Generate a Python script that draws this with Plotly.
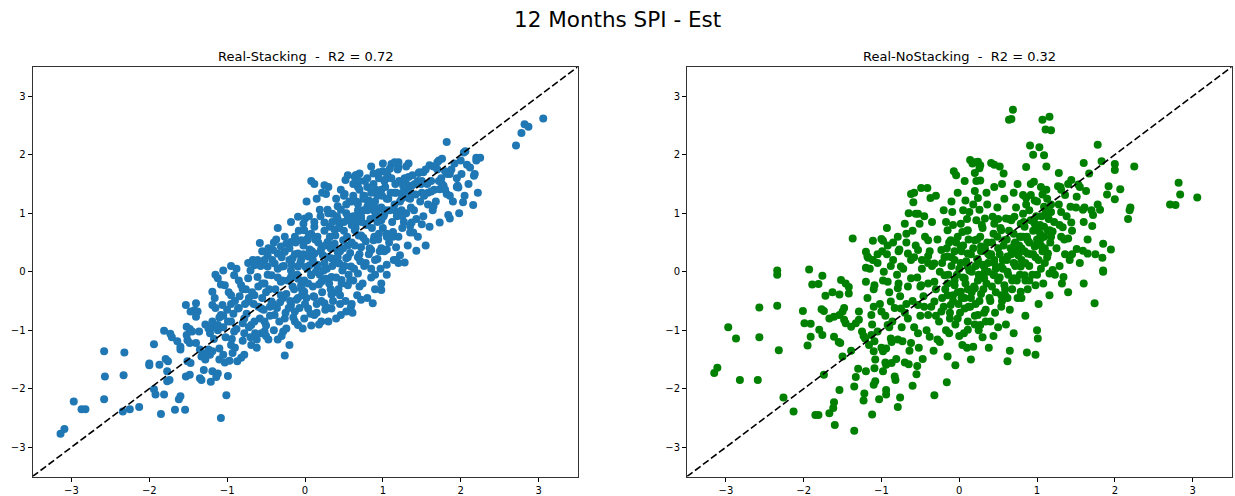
import plotly.graph_objects as go

# ---- Real vs Stacking estimate (12-month SPI): outer / sparse points ----
stack_x = [
    -3.14, -3.09, -2.97, -2.87, -2.82, -2.58, -2.57, -2.58, -2.32, -2.33, -2.34, -2.25, -2.13,
    -1.85, -1.67, -1.54, -1.62, -1.60, -1.94, -1.92, -1.81, -1.77, -1.74,
    -2.00, -2.00, -1.87, -1.79, -1.76, -1.77, -1.94, -1.81, -1.73, -1.71, -1.64, -1.60, -1.60,
    -1.53, -1.40, -1.47, -1.42, -1.38, -1.40, -1.52, -1.48, -1.45, -1.36, -1.52, -1.51, -1.48, -1.40,
    -1.51, -1.47, -1.53, -1.48, -1.35, -1.33, -1.30, -1.28, -1.24, -1.22,
    -1.35, -1.33, -1.21, -1.30, -1.28, -1.24, -1.22, -1.19,
    -1.19, -1.19, -1.19, -1.19, -1.19,
    -1.08, -1.01, -1.12, -1.14, -0.99, -1.10, -1.03, -0.97, -0.87, -0.82, -0.78,
    -1.10, -0.95, -0.93, -0.26, -0.80, -0.69, -0.62, -0.47, -0.35,
    -0.56, -0.52, -0.50, -0.28, -0.24, -0.03, -0.09, -0.13,
    0.40, 0.46, 0.53, 0.61, 0.59, 0.72, 0.80, 0.87, 0.98, 0.98, 0.68, 0.34, 0.36,
    3.06, 2.82, 2.87, 2.78, 2.71, 1.82, 2.04, 2.06, 2.20, 2.25, 2.08, 1.92, 1.72, 1.76, 1.70,
    1.60, 1.65, 1.33, 1.20, 1.20, 1.83, 1.86, 2.01, 2.18, 2.17, 1.46, 1.52, 1.76, 1.78, 1.96, 1.97,
    1.50, 1.49, 1.41, 1.37, 1.30, 1.32, 1.26, 1.25, 1.34, 1.50, 1.58, 1.62, 1.66, 1.73, 1.82,
    2.03, 2.16, 1.65, 1.33, 1.24, 1.84, 1.86, 1.73, 1.43, 1.37, 1.35, 1.35, 1.39, 1.50, 1.60,
    1.20, 1.43, 1.22, 1.28, 1.20,
    0.08, 0.25, 0.30, 0.22, 0.27, 0.52, 0.66, 0.70, 0.64, 0.68, 1.11, 1.09, 1.15, 0.95, 1.02, 1.05,
    0.42, 0.46, 0.57, 0.53, 0.19, 0.29, -0.09, 0.00, -0.02, -0.58, -0.37, -0.88, -0.73, -0.67,
    0.35, 0.42, 0.50, 0.60, 0.65, 0.25, 0.32, 0.38, 0.44,
    0.68, 0.75, 0.80, 0.82, 0.88, 0.93, 0.98, 1.05, 1.15,
    0.80, 0.88, 0.95, 1.02, 1.17, 0.72, 0.80, 0.90, 0.98,
    0.64, 0.72, 0.88, 0.95, 1.05, 1.13, 0.72, 0.85, 0.98, 1.05, 1.17, 0.68, 0.76, 0.93, 1.05, 1.17,
    -0.01, 0.08, 0.12, 0.16, 0.03, -0.05, -0.13, -0.18, -0.24, -0.31, -0.26, -0.35, -0.41, -0.48,
    -0.52, -0.61, -0.65, -0.48, -0.39, -0.29, -0.16, -0.09, 0.04, 0.12, 0.21, 0.29, 0.38, 0.49,
    0.55, 0.42, 0.34, 0.25, 0.16, 0.06, -0.09, 0.44, 0.53, 0.59,
    0.40, 0.51, 0.60, 0.62, 0.75, 0.85, 0.90, 0.55, 0.65, 0.75,
    -1.12, -1.03, -0.91, -0.82, -0.73, -0.61, -0.52, -0.43, -0.31, -0.18, -0.05, 0.08, 0.21, 0.34,
    0.47, 0.55,
    -1.16, -1.06, -0.95, -0.86, -0.73, -0.65, -0.56, -0.43, -0.31, -0.18, -0.09, 0.04, 0.12, 0.25,
    0.34, -0.01, -1.08,
    -1.12, -0.99, -0.91, -0.78, -0.69, -0.39, -0.26, -0.13, -0.01, 0.12, 0.21, -0.52,
    -1.15, -1.05, -0.95, 0.62, 0.70, 0.85, 0.90,
]
stack_y = [
    -2.77, -2.69, -2.22, -2.35, -2.35, -1.36, -1.79, -2.18, -1.38, -1.77, -2.39, -2.35, -2.31,
    -2.43, -2.36, -2.36, -2.18, -2.13, -2.01, -2.10, -2.10, -1.87, -1.85,
    -1.57, -1.60, -1.59, -1.49, -1.53, -1.70, -1.24, -1.01, -1.06, -1.12, -1.19, -1.28, -1.33,
    -0.57, -0.54, -0.68, -0.66, -0.68, -0.77, -0.94, -0.98, -1.02, -1.02, -1.08, -1.17, -1.22, -1.22,
    -1.53, -1.56, -1.79, -1.76, -1.33, -1.45, -1.40, -1.50, -1.33, -1.42,
    -1.82, -1.85, -1.88, -1.68, -0.90, -0.97, -1.05, -0.95,
    -0.34, -0.57, -0.85, -1.36, -1.70,
    -2.50, -2.11, -1.74, -1.80, -1.78, -1.50, -1.55, -1.52, -1.53, -1.47, -1.42,
    -1.31, -1.25, -1.39, -1.43, -1.18, -1.25, -1.16, -1.16, -1.16,
    -1.05, -1.02, -1.10, -1.02, -0.97, -0.97, -0.91, -0.85,
    -0.80, -0.74, -0.68, -0.70, -0.60, -0.48, -0.45, -0.54, -0.31, -0.20, -0.03, -0.39, -0.36,
    2.62, 2.52, 2.48, 2.37, 2.16, 2.22, 2.04, 2.06, 1.95, 1.95, 1.83, 1.85, 1.90, 1.93, 1.87,
    1.82, 1.80, 1.85, 1.87, 1.78, 1.67, 1.67, 1.67, 1.67, 1.64, 1.69, 1.70, 1.50, 1.47, 1.47, 1.44,
    1.55, 1.50, 1.50, 1.47, 1.50, 1.42, 1.47, 1.35, 1.35, 1.35, 1.35, 1.37, 1.40, 1.41, 1.33,
    1.19, 1.14, 1.12, 1.26, 1.05, 0.97, 0.91, 0.84, 0.90, 0.84, 0.78, 0.67, 0.67, 0.81, 0.77,
    0.60, 0.36, 0.28, 0.16, 0.15,
    1.55, 1.48, 1.45, 1.35, 1.33, 1.57, 1.65, 1.68, 1.62, 1.45, 1.84, 1.76, 1.87, 1.60, 1.55, 1.60,
    1.12, 1.06, 1.20, 1.00, 1.06, 1.06, 0.94, 0.91, 0.82, 0.49, 0.55, 0.05, 0.15, 0.20,
    0.99, 0.90, 0.85, 0.93, 0.82, 0.84, 0.77, 0.72, 0.80,
    1.16, 1.30, 1.45, 1.22, 1.38, 1.30, 1.40, 1.25, 1.35,
    1.11, 1.05, 1.08, 0.99, 1.03, 0.90, 0.82, 0.94, 0.88,
    0.71, 0.62, 0.54, 0.65, 0.60, 0.68, 0.42, 0.37, 0.40, 0.38, 0.42, 0.25, 0.10, 0.22, 0.12, 0.20,
    0.71, 0.65, 0.77, 0.60, 0.54, 0.54, 0.60, 0.51, 0.48, 0.43, 0.34, 0.31, 0.37, 0.28,
    0.20, 0.20, 0.11, 0.09, 0.14, 0.09, 0.23, 0.31, 0.26, 0.31, 0.40, 0.51, 0.48, 0.54,
    0.45, 0.34, 0.23, 0.14, 0.09, 0.11, 0.09, 0.14, 0.23, 0.09,
    1.25, 1.33, 1.20, 1.30, 1.25, 1.35, 1.20, 0.95, 0.95, 1.05,
    -0.11, -0.23, -0.06, -0.23, -0.11, -0.09, -0.20, -0.06, -0.17, -0.09, -0.23, -0.06, -0.17, -0.09,
    -0.14, -0.23,
    -0.45, -0.57, -0.40, -0.63, -0.51, -0.40, -0.63, -0.51, -0.40, -0.57, -0.45, -0.63, -0.43, -0.54,
    -0.63, -0.34, -0.74,
    -0.91, -0.85, -1.02, -0.80, -0.91, -0.74, -0.80, -0.68, -0.80, -0.74, -0.85, -0.85,
    -0.05, 0.02, 0.10, -0.15, -0.25, 0.05, -0.05,
]

# ---- Real vs Stacking: dense central band ----
stack_core_x = [
    -1.15, -1.10, -1.05, -1.02, -0.98, -0.95, -0.92, -0.90, -0.88, -0.85, -0.84, -0.80, -0.78, -0.76,
    -1.08, -1.00, -0.94, -1.12, -1.17, -1.05,
    -0.75, -0.72, -0.70, -0.68, -0.66, -0.64, -0.60, -0.58, -0.57, -0.55, -0.53, -0.50, -0.48, -0.46,
    -0.45, -0.42, -0.41, -0.40, -0.62, -0.70, -0.77, -0.55, -0.47,
    -0.38, -0.36, -0.35, -0.33, -0.30, -0.28, -0.26, -0.25, -0.22, -0.20, -0.19, -0.17, -0.15, -0.14,
    -0.12, -0.10, -0.08, -0.07, -0.05, -0.04, -0.02, -0.01, -0.30, -0.20, -0.35, -0.18, -0.40,
    0.02, 0.03, 0.05, 0.07, 0.09, 0.10, 0.12, 0.14, 0.15, 0.17, 0.19, 0.20, 0.22, 0.23, 0.25, 0.26,
    0.28, 0.30, 0.31, 0.33, 0.35, 0.36, 0.38, 0.39, 0.05, 0.08, 0.18, 0.30, 0.02, 0.15, 0.12,
    0.41, 0.43, 0.45, 0.46, 0.48, 0.50, 0.52, 0.53, 0.55, 0.57, 0.58, 0.60, 0.62, 0.63, 0.65, 0.67,
    0.68, 0.70, 0.72, 0.74, 0.75, 0.77, 0.78, 0.79, 0.45, 0.50, 0.60, 0.70, 0.55, 0.65,
    0.81, 0.83, 0.85, 0.86, 0.88, 0.90, 0.92, 0.94, 0.95, 0.97, 0.99, 1.00, 1.02, 1.04, 1.06, 1.08,
    1.10, 1.12, 1.14, 1.16, 1.18, 1.19, 0.90, 1.05, 1.00, 0.85,
    1.22, 1.25, 1.28, 1.30, 1.32, 1.35, 1.38, 1.40, 1.45, 1.48, 1.52, 1.55, 1.58, 1.62, 1.68, 1.70,
    1.25, 1.45, 1.55, 1.30,
    1.75, 1.80, 1.88, 1.90, 1.95, 2.00, 2.10, 2.12, 2.20, 2.22, 1.98, 2.05,
]
stack_core_y = [
    -0.62, -0.78, -0.95, -1.12, -0.35, -0.55, -0.72, -1.30, -0.98, -0.15, -0.42, -0.88, -1.05, -0.30,
    -0.22, -0.65, -1.15, -1.00, -1.15, -1.42,
    -0.72, -0.95, 0.02, -0.35, -0.55, -1.05, -0.25, -0.80, 0.10, -0.45, -0.65, -0.92, -0.05, -0.30,
    -0.75, 0.20, -0.55, -1.00, -1.30, -1.12, -0.55, 0.35, 0.40,
    -0.30, -0.62, 0.05, -0.85, 0.25, -0.45, 0.60, -0.70, -0.15, 0.40, -0.50, 0.12, -0.78, -0.30,
    0.50, -0.05, 0.70, -0.62, 0.20, -0.40, 0.45, -0.15, -1.10, -1.25, 0.75, 0.85, 0.50,
    -0.45, 0.05, 0.62, -0.72, 0.35, -0.25, 0.85, 0.00, -0.55, 0.50, -0.05, 0.95, -0.35, 0.28, 0.70, -0.65,
    0.05, 1.00, -0.20, 0.40, 0.85, -0.50, 0.15, 0.62, 0.95, -0.92, -0.90, -0.85, 1.20, 1.25, 1.50,
    0.95, -0.30, 0.35, 1.40, 0.02, 0.70, -0.50, 1.15, 0.25, 0.88, -0.15, 0.50, 1.50, 0.05, 0.75, -0.40,
    1.05, 0.30, 0.95, -0.20, 0.58, 1.55, 0.15, 0.80, -0.55, 1.30, -0.55, 1.40, 1.65, 1.65,
    1.20, 0.40, -0.10, 0.75, 1.50, 0.20, 1.00, 0.55, 1.70, 0.05, 1.30, 0.75, 0.35, 1.05, 1.65, 0.50,
    1.35, 0.85, 0.20, 1.50, 0.95, 1.75, -0.30, -0.05, 1.85, 1.80,
    1.20, 0.75, 1.60, 1.00, 0.45, 1.25, 1.65, 1.05, 1.55, 1.20, 0.95, 1.75, 1.15, 1.55, 1.20, 1.75,
    0.95, 0.60, 0.45, 1.80,
    1.60, 1.40, 1.75, 1.20, 1.60, 1.90, 1.50, 1.78, 1.90, 1.35, 1.00, 1.30,
]

# ---- Real vs Stacking: heaviest overlap along the diagonal ----
stack_dense_x = [
    -0.32, -0.29, -0.27, -0.24, -0.21, -0.18, -0.16, -0.13, -0.11, -0.09, -0.06, -0.04, -0.02, 0.00,
    0.01, 0.04, 0.06, 0.08, 0.10, 0.11, 0.13, 0.16, 0.18, 0.20, 0.21, 0.24, 0.26, 0.27, 0.29, 0.32,
    0.33, 0.35, 0.37, 0.40, 0.42, 0.44, 0.47, 0.49, 0.51, 0.54, 0.56, 0.58, 0.60, 0.02, -0.20, -0.35,
    0.15, 0.30, 0.45, -0.45, -0.60, -0.72, -0.85, -0.95, -1.05, -0.65, -0.55, -0.80, -0.90, -0.50,
    0.62, 0.64, 0.66, 0.69, 0.71, 0.73, 0.76, 0.78, 0.80, 0.82, 0.84, 0.87, 0.89, 0.91, 0.93, 0.96,
    0.98, 1.01, 1.03, 1.05, 1.07, 1.09, 1.11, 1.13, 1.15, 1.17, 0.70, 0.88, 1.00, 0.80,
    1.21, 1.24, 1.27, 1.30, 1.33, 1.36, 1.42, 1.47, 1.53, 1.57, 1.64, 1.72, 1.80, 1.86, 1.95,
]
stack_dense_y = [
    -0.52, -0.15, 0.10, -0.38, -0.62, 0.02, -0.25, 0.30, -0.48, -0.12, 0.15, -0.30, 0.30, -0.55,
    0.08, -0.20, 0.38, -0.05, 0.20, -0.42, 0.55, 0.12, -0.22, 0.35, -0.50, 0.02, 0.45, -0.12, 0.25, 0.60,
    -0.30, 0.10, 0.42, -0.10, 0.25, 0.75, -0.20, 0.40, 0.10, 0.60, -0.05, 0.32, 0.80, 0.55, 0.20, -0.10,
    -0.70, -0.62, -0.40, -0.60, -0.60, -0.45, -0.62, -0.85, -0.75, -0.85, -0.20, -0.30, -0.50, -0.35,
    0.95, 0.45, 1.20, 0.62, 0.18, 0.85, 1.30, 0.52, 1.05, 0.30, 0.90, 1.15, 0.60, 1.40, 0.85, 0.35,
    1.10, 0.95, 1.45, 0.65, 1.25, 1.05, 1.60, 0.60, 1.15, 1.35, 1.55, 1.68, 1.72, 1.60,
    1.55, 1.25, 0.85, 1.30, 1.62, 1.10, 1.32, 1.70, 1.30, 1.50, 1.05, 1.55, 1.72, 1.30, 1.45,
]

# ---- Real vs NoStacking estimate: outer / sparse points ----
nostack_x = [
    -1.37, -1.20, -1.18, -1.93, -2.34, -1.20,
    -2.34, -2.57, -2.34, -2.97, -2.87, -2.57, -2.32, -3.11, -3.15, -2.82, -2.59, -2.26, -2.13,
    -1.85, -1.81, -1.67, -1.62, -1.61, -1.60, -1.35, -1.54, -1.35, -1.33, -1.30, -1.22, -1.23,
    -1.20, -1.74, -1.50, -1.39, -1.95, -1.91, -1.61, -1.55, -1.53, -1.80, -1.76, -2.01, -1.99, -1.91,
    -1.77, -1.74, -1.67, -1.61, -1.54, -1.50, -1.48, -1.48, -1.46, -1.39, -1.33, -1.29, -1.29,
    -1.89, -1.81, -1.76, -1.72, -1.63, -1.54, -1.52, -1.46, -1.42, -1.42, -1.20,
    -1.25, -1.23, -1.21,
    0.69, 0.64, 0.67, 1.07, 1.16, 1.11, 0.91, 1.03, 1.09, 0.86, 0.96,
    0.14, 0.17, 0.20, 0.27, 0.26, 0.24, 0.41, 0.45, 0.52, 0.57, -0.07, -0.04, 0.07, 0.20, 0.22, 0.27,
    -0.49, -0.41, -0.62, -0.58, -0.59, -0.37, -0.02, 0.08, 0.20, 0.24, 0.36,
    0.70, 0.82, 0.86, 0.92, 0.97, 1.05, 1.07, 1.13,
    -0.56, -0.53, -0.09, 0.13, 0.26, 0.22, 0.33,
    -0.70, -0.51, -0.60, -0.93, -1.11, -1.00, -0.98, -0.79, -0.68, -0.77, -0.99, -0.93, -0.88,
    -1.11, -1.17, -0.53, -0.40, -0.48,
    -0.17, -0.15, -0.08, 0.02, 0.04, 0.11, -0.23, -0.15, -0.32,
    0.43, 0.45, 0.54, 0.60, 0.67, 0.71, 0.82, 0.79, 0.84, 0.92, 0.97, 1.01, 1.09, 1.14, 1.09,
    0.58, 0.71, 0.79, 0.88, 1.05, 0.97, 0.75, 0.88, 1.14,
    0.20, 0.28, 0.37, 0.45, 0.54, 0.62, 0.71, 0.79, 0.32, 0.24, 0.11, 0.02, -0.06, 0.11, -0.11,
    -0.40, -0.66, -0.75,
    1.18, 1.78, 1.83, 1.60, 2.00, 2.00, 2.25, 1.28, 1.67,
    1.44, 1.40, 1.27, 1.31, 1.36, 1.53, 1.55, 1.63, 1.51,
    1.92, 2.07, 1.90, 2.00, 2.82, 2.84, 3.06, 2.71, 2.78, 2.20, 2.19, 2.17, 1.78, 1.81, 1.72,
    1.59, 1.61, 1.43, 1.31, 1.18, 1.29, 1.33, 1.44, 1.16, 1.20, 1.18, 1.31, 1.40, 1.71, 1.85,
    1.95, 1.36, 1.45, 1.51, 1.59, 1.65, 1.84, 1.29, 1.20, 1.85,
    -1.12, -0.79, -0.76, -1.03, -0.94, -0.94, -1.10, -1.08, -0.32, -0.16, -0.83, -0.82, -0.98,
    -0.94, -1.09, -0.65, -0.54, -0.47, -0.81, -0.87, -1.10, -0.98, -0.94, -1.09, 0.04, 0.18,
    0.30, 0.44, 0.62, 0.87, 0.98, 1.01, 0.98, 0.34,
    0.27, 0.11, -0.13, -0.28, -0.38, -0.53, -0.62, -0.73, -0.79, -0.88,
    -1.09, -0.92, -0.79, -0.62, -0.49, -0.32, -0.19, -0.06, 0.07, 0.20, 0.32, 0.45, 0.58, 0.71, 0.84,
    -1.13, -1.00, -0.88, -0.75, -0.66, -0.53, -0.40, -0.32, -0.23, -0.11, -0.02, 0.07, 0.15, 0.24,
    0.11, 0.54, 0.62, 0.79, 0.02, -0.15, -0.92, -1.05, -1.13,
    1.16, 1.23, 1.34, 1.85, 1.74,
    0.90, 1.00, 1.10, 0.95, 1.05, 0.80, 0.85, 1.00,
]
nostack_y = [
    0.57, 0.34, 0.26, 0.04, 0.02, 0.07,
    -0.05, -0.61, -0.58, -0.95, -1.14, -1.12, -1.34, -1.64, -1.73, -1.85, -1.85, -2.15, -2.39,
    -2.45, -2.45, -2.42, -2.33, -2.23, -2.62, -2.72, -2.02, -1.96, -1.80, -1.66, -2.08, -2.20,
    -1.70, -1.76, -1.45, -1.35, -1.26, -1.11, -1.11, -1.20, -1.22, -0.99, -1.08, -0.67, -0.88, -0.89,
    -0.64, -0.67, -0.80, -0.77, -0.74, -0.68, -0.62, -0.82, -0.88, -0.94, -0.88, -0.82, -0.68,
    -0.22, -0.21, -0.07, -0.41, -0.35, -0.39, -0.14, -0.20, -0.26, -0.37, -0.17,
    -1.02, -1.10, -1.14,
    2.77, 2.60, 2.61, 2.60, 2.65, 2.43, 2.16, 2.13, 1.99, 1.79, 1.54,
    1.91, 1.85, 1.87, 1.82, 1.77, 1.88, 1.86, 1.83, 1.80, 1.68, 1.72, 1.65, 1.55, 1.69, 1.55, 1.56,
    1.43, 1.43, 1.33, 1.35, 1.19, 1.26, 1.35, 1.22, 1.38, 1.26, 1.15,
    1.35, 1.31, 1.26, 1.31, 1.22, 1.45, 1.32, 1.25,
    0.99, 0.99, 1.02, 1.02, 1.06, 0.88, 0.91,
    0.82, 0.82, 0.70, 0.75, 0.53, 0.56, 0.53, 0.60, 0.50, 0.38, 0.35, 0.30, 0.10,
    0.20, 0.24, 0.37, 0.27, 0.20,
    0.85, 0.71, 0.80, 0.82, 0.68, 0.71, 0.37, 0.26, 0.14,
    0.94, 0.82, 0.71, 0.91, 0.88, 0.94, 0.99, 0.82, 0.77, 0.88, 0.82, 0.71, 0.77, 0.99, 1.11,
    0.54, 0.48, 0.60, 0.54, 0.57, 0.43, 0.37, 0.31, 0.31,
    0.54, 0.43, 0.31, 0.20, 0.09, 0.26, 0.14, 0.09, 0.09, 0.20, 0.31, 0.43, 0.20, 0.09, 0.54,
    0.54, 0.31, 0.09,
    2.42, 2.17, 1.89, 1.86, 1.74, 1.84, 1.80, 1.69, 1.68,
    1.57, 1.50, 1.46, 1.40, 1.31, 1.49, 1.45, 1.38, 1.28,
    1.46, 1.41, 1.32, 1.24, 1.52, 1.32, 1.27, 1.15, 1.14, 1.10, 1.05, 0.90, 1.15, 1.06, 0.97,
    1.06, 1.10, 1.11, 1.02, 1.02, 0.80, 0.76, 0.84, 0.71, 0.69, 0.60, 0.60, 0.57, 0.78, 0.48,
    0.38, 0.30, 0.30, 0.39, 0.36, 0.31, 0.24, 0.10, 0.03, 0.02,
    -2.44, -2.31, -2.15, -2.18, -2.02, -2.10, -1.93, -1.87, -2.11, -1.89, -1.79, -1.85, -1.70,
    -1.59, -1.65, -1.58, -1.61, -1.49, -1.49, -1.56, -1.36, -1.36, -1.31, -1.19, -1.25, -1.28,
    -1.12, -1.10, -1.53, -1.38, -1.42, -1.14, -0.23, -0.65,
    -0.91, -0.99, -1.05, -1.16, -1.11, -1.05, -1.22, -1.19, -1.16, -1.14,
    -0.23, -0.17, -0.28, -0.11, -0.23, -0.17, -0.06, -0.23, -0.11, -0.28, -0.11, -0.06, -0.23, -0.11, -0.06,
    -0.74, -0.68, -0.51, -0.63, -0.80, -0.57, -0.74, -0.51, -0.68, -0.57, -0.80, -0.63, -0.45, -0.74,
    -0.85, -0.40, -0.45, -0.34, -0.34, -0.40, -0.91, -1.02, -1.08,
    -0.03, -0.05, -0.09, 0.00, -0.54,
    0.10, -0.05, 0.15, 0.30, 0.45, 0.20, -0.15, 0.55,
]

# ---- Real vs NoStacking: dense central cloud ----
nostack_core_x = [
    -1.18, -1.15, -1.12, -1.10, -1.05, -1.02, -1.00, -0.97, -0.95, -0.92, -0.90, -0.87, -0.85, -0.83,
    -0.80, -1.08, -0.95, -0.86, -1.16,
    -0.78, -0.76, -0.74, -0.72, -0.70, -0.68, -0.66, -0.64, -0.62, -0.60, -0.58, -0.56, -0.54, -0.52,
    -0.50, -0.48, -0.46, -0.44, -0.42, -0.40, -0.65, -0.45, -0.55, -0.70, -0.60,
    -0.38, -0.36, -0.35, -0.33, -0.30, -0.28, -0.26, -0.25, -0.22, -0.20, -0.19, -0.17, -0.15, -0.13,
    -0.12, -0.10, -0.08, -0.06, -0.05, -0.03, -0.02, -0.01, -0.30, -0.15, -0.05, -0.25, -0.35, -0.10,
    0.02, 0.03, 0.05, 0.06, 0.08, 0.10, 0.12, 0.13, 0.15, 0.16, 0.18, 0.20, 0.21, 0.23, 0.24, 0.26,
    0.28, 0.29, 0.31, 0.33, 0.34, 0.36, 0.37, 0.39, 0.05, 0.15, 0.25, 0.35, 0.38, 0.10,
    0.41, 0.42, 0.44, 0.46, 0.47, 0.49, 0.50, 0.52, 0.53, 0.55, 0.56, 0.58, 0.59, 0.61, 0.62, 0.64,
    0.65, 0.67, 0.68, 0.70, 0.72, 0.73, 0.75, 0.77, 0.78, 0.50, 0.65, 0.55, 0.75, 0.60, 0.70, 0.45,
    0.82, 0.84, 0.86, 0.88, 0.90, 0.92, 0.94, 0.96, 0.98, 1.00, 1.02, 1.04, 1.06, 1.08, 1.10, 1.12,
    1.14, 1.16, 1.18, 0.85, 1.00, 0.95, 1.12,
    1.22, 1.25, 1.28, 1.32, 1.35, 1.38, 1.42, 1.45, 1.50, 1.55, 1.60, 1.65, 1.70, 1.75, 1.40, 1.60,
    1.30,
]
nostack_core_y = [
    -0.45, 0.05, -0.90, -0.30, 0.30, -0.55, -1.30, 0.00, -0.75, 0.45, -0.35, -1.20, 0.20, -0.62,
    -0.05, -1.50, -1.55, -0.85, -1.25,
    0.35, -0.42, -0.95, 0.05, -0.70, 0.65, -0.25, -1.35, 0.20, -0.50, -0.95, 0.45, -0.10, -1.30,
    -0.75, 0.05, -0.42, 0.60, -1.00, -0.20, 1.00, 0.95, -1.75, -1.55, -1.95,
    0.35, -0.60, 0.10, -1.35, -0.30, 0.55, -0.85, 0.00, -0.45, 1.05, 0.25, -1.00, -0.20, 0.50,
    -0.70, 0.10, -0.40, 0.35, -0.90, -0.05, 0.60, -0.55, 1.30, -1.45, -1.60, -1.20, 0.85, 1.20,
    0.15, -0.45, 0.45, -1.05, -0.20, 0.70, -0.60, 0.02, 0.30, -0.35, 1.15, -0.75, 0.10, 0.55, -0.15,
    -0.50, 0.35, 0.80, -0.30, 0.00, -0.85, 0.50, 0.15, -0.45, 1.05, -1.50, -1.00, 1.35, -1.30, -1.30,
    0.30, -0.25, 0.65, -0.70, 0.05, 1.10, 0.40, -0.10, 0.75, -0.50, 0.20, 1.25, -0.30, 0.55, 0.00,
    0.90, -0.65, 0.30, -0.15, 0.65, 0.10, 1.10, -0.45, 0.45, -0.05, -0.95, -1.35, 1.50, 1.50, -0.90,
    -1.05, 1.45,
    0.60, 0.35, 1.15, -0.30, 0.50, 1.50, -0.05, 0.85, 0.25, 1.20, -0.55, 0.65, 0.95, -0.20, 0.40,
    1.40, 0.70, -0.40, 1.15, -0.75, -1.00, 2.00, 1.80,
    0.85, 0.40, 1.15, -0.20, 0.55, 0.95, 0.20, 0.70, 1.10, 0.15, 0.85, 0.55, 1.05, 0.30, -0.35,
    -0.20, 1.45,
]

# ---- Real vs NoStacking: heaviest overlap near the centre ----
nostack_dense_x = [
    -0.22, -0.20, -0.18, -0.16, -0.14, -0.12, -0.10, -0.08, -0.06, -0.04, -0.02, 0.00, 0.01, 0.03,
    0.05, 0.07, 0.09, 0.11, 0.12, 0.14, 0.16, 0.18, 0.19, 0.21, 0.23, 0.25, 0.27, 0.28, 0.30, 0.32,
    0.33, 0.35, 0.37, 0.39, 0.40, 0.42, 0.44, 0.45, 0.47, 0.49, 0.50, 0.52, 0.54, 0.56, 0.57, 0.59,
    0.61, 0.63, 0.64, 0.66, 0.68, 0.70, 0.72, 0.74, 0.76, 0.78, 0.30, 0.10, 0.50, 0.40, 0.20, 0.00,
    -0.30, -0.40, -0.45,
    0.80, 0.83, 0.85, 0.87, 0.90, 0.92, 0.95, 0.97, 0.99, 1.02, 1.04, 1.07, 1.09, 1.11, 1.13, 1.15,
    1.17, 0.90, 1.05, 0.80,
    -1.10, -0.98, -0.90, -0.78, -0.68, -0.58, -0.50, -0.85, -1.05,
]
nostack_dense_y = [
    0.15, -0.60, -0.30, 0.40, -0.05, -0.80, 0.25, -0.50, -0.15, 0.50, -0.35, 0.05, -0.70, 0.35,
    -0.10, -0.45, 0.18, -0.30, 0.55, -0.60, 0.00, 0.40, -0.25, -0.55, 0.22, -0.05, 0.60, -0.38, 0.12, -0.70,
    0.40, -0.20, 0.00, 0.28, -0.50, 0.50, -0.05, 0.15, -0.35, 0.60, -0.15, 0.30, -0.60, 0.05, 0.45, -0.40,
    0.20, -0.05, 0.70, 0.40, -0.30, 0.15, 0.50, -0.15, 0.28, 0.60, 0.75, 0.90, 0.90, -0.85, -0.90, -1.10,
    -0.75, 0.15, -0.60,
    0.40, 0.85, 0.15, 0.60, 1.05, 0.30, 0.70, 0.45, 0.95, 0.20, 0.80, 0.35, 0.60, 1.05, 0.25, 0.90,
    0.50, -0.15, 0.05, -0.45,
    -0.60, -0.15, -0.95, -0.20, -0.55, 0.25, -0.25, 0.50, 0.15,
]

titles = ["Real-Stacking  -  R2 = 0.72", "Real-NoStacking  -  R2 = 0.32"]
suptitle = "12 Months SPI - Est"
ident = [-3.5, 3.5]
tick_vals = [-3, -2, -1, 0, 1, 2, 3]

FONT = "DejaVu Sans, sans-serif"
fig = go.Figure()

panels = [
    (stack_x + stack_core_x + stack_dense_x,
     stack_y + stack_core_y + stack_dense_y, "#1f77b4", "x", "y"),
    (nostack_x + nostack_core_x + nostack_dense_x,
     nostack_y + nostack_core_y + nostack_dense_y, "#008000", "x2", "y2"),
]
for xs, ys, color, xa, ya in panels:
    fig.add_trace(go.Scatter(
        x=xs, y=ys, mode="markers", xaxis=xa, yaxis=ya,
        marker=dict(size=8, color=color, line=dict(width=0)),
        showlegend=False, hoverinfo="skip",
    ))
    fig.add_trace(go.Scatter(
        x=ident, y=ident, mode="lines", xaxis=xa, yaxis=ya,
        line=dict(color="black", width=1.6, dash="7px,3px"),
        showlegend=False, hoverinfo="skip",
    ))

W, H = 1235, 496
x_domains = [(32.5 / W, 577.5 / W), (687.0 / W, 1231.5 / W)]
y_domain = ((H - 476.5) / H, (H - 67.0) / H)

axis_common = dict(
    range=ident, tickvals=tick_vals, ticks="outside", ticklen=4, tickwidth=1,
    tickcolor="black", showline=True, linecolor="#333333", linewidth=1, mirror=True,
    showgrid=False, zeroline=False, tickfont=dict(family=FONT, size=10, color="black"),
)
fig.update_layout(
    width=W, height=H, margin=dict(l=0, r=0, t=0, b=0),
    paper_bgcolor="white", plot_bgcolor="white",
    xaxis=dict(domain=x_domains[0], anchor="y", **axis_common),
    yaxis=dict(domain=y_domain, anchor="x", **axis_common),
    xaxis2=dict(domain=x_domains[1], anchor="y2", **axis_common),
    yaxis2=dict(domain=y_domain, anchor="x2", **axis_common),
)

annotations = [dict(
    text=suptitle, x=0.5, y=(H - 20) / H, xref="paper", yref="paper",
    showarrow=False, xanchor="center", yanchor="middle",
    font=dict(family=FONT, size=21.5, color="black"),
)]
for (d0, d1), t in zip(x_domains, titles):
    annotations.append(dict(
        text=t, x=(d0 + d1) / 2, y=(H - 56) / H, xref="paper", yref="paper",
        showarrow=False, xanchor="center", yanchor="middle",
        font=dict(family=FONT, size=13, color="black"),
    ))
fig.update_layout(annotations=annotations)

fig.write_html("out.html")
